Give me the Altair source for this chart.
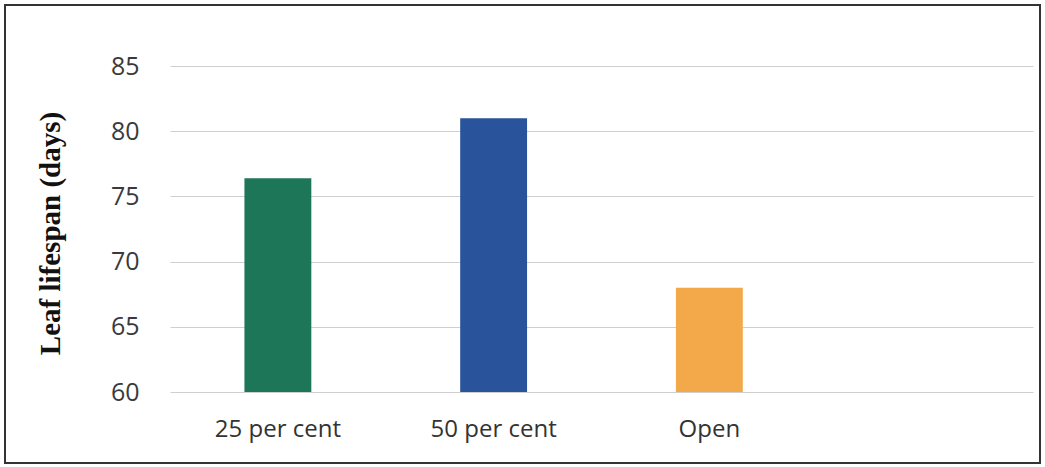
import altair as alt
import pandas as pd

categories = ["25 per cent", "50 per cent", "Open"]
values = [76.4, 81.0, 68.0]
colors = ["#1e7658", "#29539a", "#f3a84a"]
domain_slots = ["25 per cent", "50 per cent", "Open", "_blank"]

df = pd.DataFrame({"cat": categories, "val": values, "color": colors})

x_enc = alt.X(
    "cat:N",
    scale=alt.Scale(domain=domain_slots, paddingInner=0.69, paddingOuter=0.345),
    axis=alt.Axis(
        title=None, labelAngle=0, domain=False, ticks=False, grid=False, labelPadding=25,
        labelFont="Open Sans", labelFontSize=24, labelColor="#333333",
        labelExpr="datum.value == '_blank' ? '' : datum.value",
    ),
)
y_enc = alt.Y(
    "val:Q",
    scale=alt.Scale(domain=[60, 85], nice=False, zero=False),
    axis=alt.Axis(
        values=[60, 65, 70, 75, 80, 85], title="Leaf  lifespan (days)",
        domain=False, ticks=False, labelPadding=31,
        labelFont="Open Sans", labelFontSize=25, labelColor="#3a3a3a",
        gridColor="#cfcfcf", gridWidth=1.2,
        titleFont="Liberation Serif", titleFontSize=29, titleFontWeight="bold",
        titleColor="#111111", titleX=-120, titleY=167, titleAngle=-90,
        titleAlign="center", titleBaseline="middle",
    ),
)

bars = alt.Chart(df).mark_bar().encode(
    x=x_enc,
    y=y_enc,
    y2=alt.datum(60),
    color=alt.Color("color:N", scale=None),
)

frame = alt.Chart(df).mark_rect(fill=None, stroke="#333333", strokeWidth=2, clip=False).encode(
    x=alt.value(-165), x2=alt.value(870), y=alt.value(-61), y2=alt.value(397)
)

chart = alt.layer(bars, frame).properties(
    width=863, height=326,
    background="white",
    autosize=alt.AutoSizeParams(type="none"),
    padding={"left": 170, "top": 66, "right": 12, "bottom": 75},
).configure_view(stroke="transparent", strokeWidth=0)

chart.save("out.html", embed_options={"renderer": "svg", "actions": False})
